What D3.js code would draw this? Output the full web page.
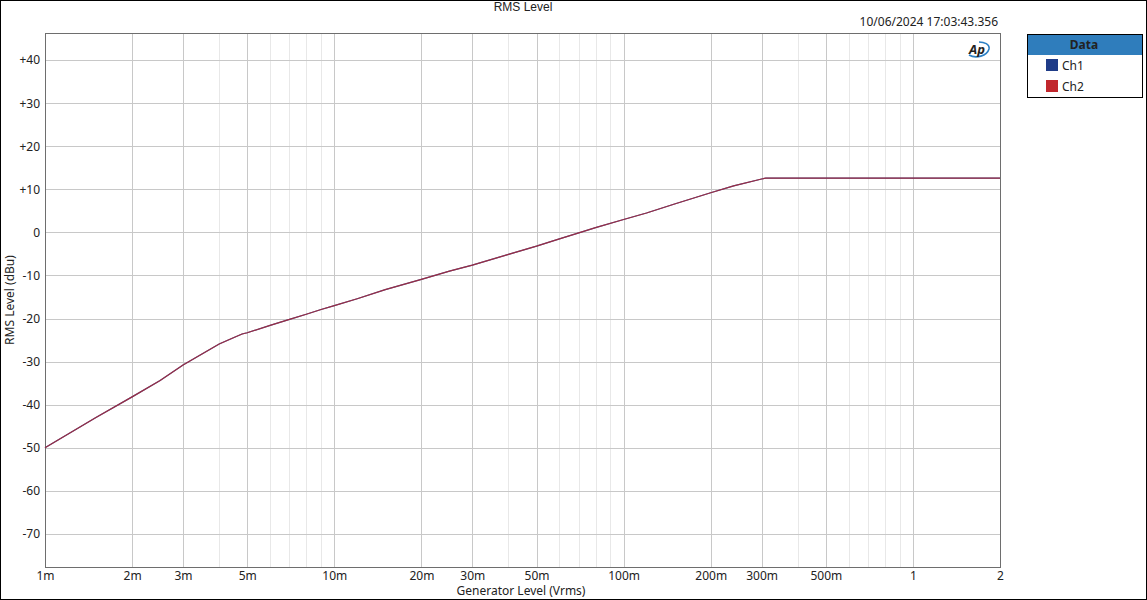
<!DOCTYPE html>
<html>
<head>
<meta charset="utf-8">
<script src="https://cdn.jsdelivr.net/npm/d3@7"></script>
<style>
  html, body { margin: 0; padding: 0; background: #fff; }
  svg { display: block; }
  text { font-family: "Noto Sans", "Open Sans", sans-serif; fill: #222; }
</style>
</head>
<body>
<script>
// generator level (Vrms) and measured RMS level (dBu)
const genLevel = [0.001, 0.0015, 0.002, 0.0025, 0.003, 0.0035, 0.004, 0.0045, 0.0048, 0.005,
  0.006, 0.007, 0.008, 0.009, 0.010, 0.012, 0.015, 0.020, 0.025, 0.030, 0.040, 0.050,
  0.060, 0.070, 0.080, 0.100, 0.120, 0.150, 0.200, 0.240, 0.300, 0.310, 0.400, 0.500,
  0.700, 1.0, 1.5, 2.0];
const ch1 = [-50.0, -43.0, -38.2, -34.4, -30.8, -28.2, -25.9, -24.4, -23.6, -23.3,
  -21.6, -20.2, -19.0, -17.9, -17.0, -15.4, -13.3, -10.9, -9.0, -7.6, -5.1, -3.2,
  -1.5, -0.1, 1.1, 3.0, 4.5, 6.6, 9.2, 10.8, 12.4, 12.6, 12.6, 12.6,
  12.6, 12.6, 12.6, 12.6];
const ch2 = ch1.slice();

const xTicks = [0.001, 0.002, 0.003, 0.005, 0.01, 0.02, 0.03, 0.05, 0.1, 0.2, 0.3, 0.5, 1, 2];
const xTickLabels = ["1m", "2m", "3m", "5m", "10m", "20m", "30m", "50m", "100m", "200m", "300m", "500m", "1", "2"];
const yTicks = [40, 30, 20, 10, 0, -10, -20, -30, -40, -50, -60, -70];

const width = 1147, height = 600;
const plot = {left: 45, right: 1000, top: 33, bottom: 567};

const svg = d3.select("body").append("svg")
  .attr("width", width)
  .attr("height", height);

// outer frame
svg.append("rect")
  .attr("x", 0.5).attr("y", 0.5)
  .attr("width", width - 1).attr("height", height - 1)
  .attr("fill", "#fff").attr("stroke", "#000");

const x = d3.scaleLog()
  .domain([0.001, 2])
  .range([plot.left, plot.right]);
const y = d3.scaleLinear()
  .domain([-77.7, 46.3])
  .range([plot.bottom, plot.top]);

// minor vertical grid (4,6,7,8,9 per decade)
const minor = [];
[0.001, 0.01, 0.1, 1].forEach(d => [4, 6, 7, 8, 9].forEach(k => {
  const v = d * k;
  if (v < 2) minor.push(v);
}));

const grid = svg.append("g");
grid.selectAll(".minor")
  .data(minor)
  .join("line")
  .attr("x1", d => Math.round(x(d)) + 0.5).attr("x2", d => Math.round(x(d)) + 0.5)
  .attr("y1", plot.top).attr("y2", plot.bottom)
  .attr("stroke", "#e8e8e8");
grid.selectAll(".major")
  .data(xTicks.slice(1, -1))
  .join("line")
  .attr("x1", d => Math.round(x(d)) + 0.5).attr("x2", d => Math.round(x(d)) + 0.5)
  .attr("y1", plot.top).attr("y2", plot.bottom)
  .attr("stroke", "#c8c8c8");
grid.selectAll(".hgrid")
  .data(yTicks)
  .join("line")
  .attr("x1", plot.left).attr("x2", plot.right)
  .attr("y1", d => Math.round(y(d)) + 0.5).attr("y2", d => Math.round(y(d)) + 0.5)
  .attr("stroke", "#c8c8c8");

// plot border
svg.append("rect")
  .attr("x", plot.left + 0.5).attr("y", plot.top + 0.5)
  .attr("width", plot.right - plot.left).attr("height", plot.bottom - plot.top)
  .attr("fill", "none").attr("stroke", "#6e6e6e");

// axes (labels only)
const yAxis = d3.axisLeft(y)
  .tickValues(yTicks)
  .tickSize(0).tickPadding(5)
  .tickFormat(d => d > 0 ? "+" + d : String(d));
svg.append("g")
  .attr("transform", `translate(${plot.left},0)`)
  .call(yAxis)
  .call(g => g.select(".domain").remove())
  .selectAll("text").style("font-size", "12px").attr("fill", "#222");

const xAxis = d3.axisBottom(x)
  .tickValues(xTicks)
  .tickSize(0).tickPadding(4)
  .tickFormat((d, i) => xTickLabels[i]);
svg.append("g")
  .attr("transform", `translate(0,${plot.bottom})`)
  .call(xAxis)
  .call(g => g.select(".domain").remove())
  .selectAll("text").style("font-size", "12px").attr("fill", "#222");

// data lines
const line = d3.line()
  .x((d, i) => x(genLevel[i]))
  .y(d => y(d));

svg.append("path")
  .datum(ch1)
  .attr("d", line)
  .attr("fill", "none")
  .attr("stroke", "#1f3c88")
  .attr("stroke-width", 1.2);
svg.append("path")
  .datum(ch2)
  .attr("d", line)
  .attr("fill", "none")
  .attr("stroke", "#c1272d")
  .attr("stroke-opacity", 0.75)
  .attr("stroke-width", 1.2);

// titles
svg.append("text")
  .attr("x", 523).attr("y", 11)
  .attr("text-anchor", "middle")
  .style("font-family", "'Liberation Sans', Arial, sans-serif")
  .style("font-size", "12px")
  .text("RMS Level");

svg.append("text")
  .attr("x", 998).attr("y", 26)
  .attr("text-anchor", "end")
  .style("font-size", "12px")
  .text("10/06/2024 17:03:43.356");

svg.append("text")
  .attr("x", 521).attr("y", 595)
  .attr("text-anchor", "middle")
  .style("font-size", "12px")
  .text("Generator Level (Vrms)");

svg.append("text")
  .attr("transform", "translate(14,300) rotate(-90)")
  .attr("text-anchor", "middle")
  .style("font-size", "12px")
  .text("RMS Level (dBu)");

// AP logo
const logo = svg.append("g").attr("transform", "translate(978,50)");
logo.append("path")
  .attr("d", "M-9,5 C-2,9 9,6 11,-1 C12,-6 6,-8 1,-8")
  .attr("fill", "none").attr("stroke", "#2b7fc4").attr("stroke-width", 1.6);
logo.append("text")
  .attr("x", -1).attr("y", 4)
  .attr("text-anchor", "middle")
  .style("font-size", "13px").style("font-weight", "bold").style("font-style", "italic")
  .attr("fill", "#2b7fc4")
  .text("Ap");

// legend
const legend = svg.append("g").attr("transform", "translate(1027,34)");
legend.append("rect")
  .attr("x", 0.5).attr("y", 0.5).attr("width", 115).attr("height", 63)
  .attr("fill", "#fff").attr("stroke", "#000");
legend.append("rect")
  .attr("x", 1).attr("y", 1).attr("width", 114).attr("height", 20)
  .attr("fill", "#2f7dbc");
legend.append("text")
  .attr("x", 57).attr("y", 15)
  .attr("text-anchor", "middle")
  .style("font-size", "12px").style("font-weight", "bold")
  .attr("fill", "#fff")
  .text("Data");
const series = [{name: "Ch1", color: "#1f3c88"}, {name: "Ch2", color: "#c1272d"}];
const item = legend.selectAll(".item")
  .data(series)
  .join("g")
  .attr("transform", (d, i) => `translate(19,${25 + i * 21})`);
item.append("rect")
  .attr("width", 12).attr("height", 12)
  .attr("fill", d => d.color);
item.append("text")
  .attr("x", 16).attr("y", 11)
  .style("font-size", "12px")
  .text(d => d.name);
</script>
</body>
</html>
